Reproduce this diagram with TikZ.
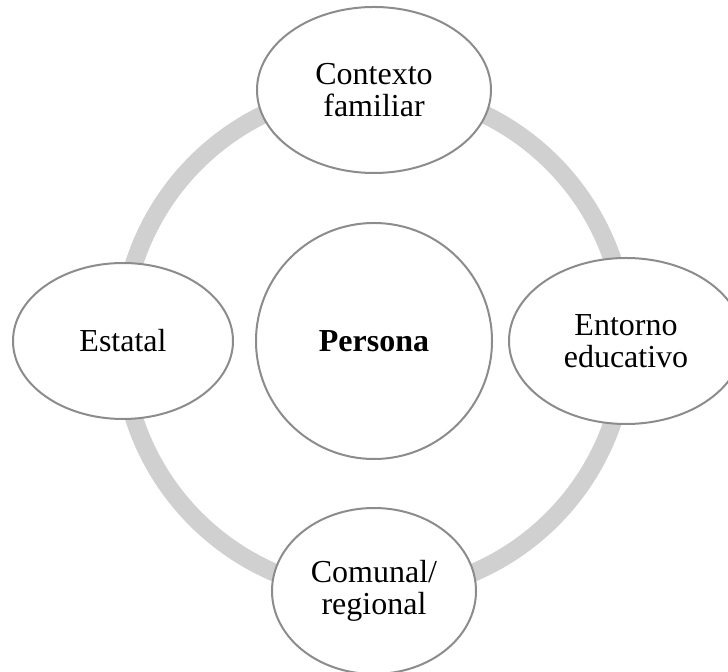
\documentclass[tikz,border=0pt]{standalone}
\usepackage{fontspec}
\setmainfont{Liberation Serif}
\usetikzlibrary{shapes.geometric}
\definecolor{ringgray}{RGB}{208,208,208}
\definecolor{edgegray}{RGB}{140,140,140}

\begin{document}
\begin{tikzpicture}[x=0.5pt, y=-0.5pt,
        bubble/.style={ellipse, draw=edgegray, line width=1pt, fill=white,
            align=center, inner sep=0pt, font=\fontsize{16}{16}\selectfont},
        ring/.style={draw=ringgray, line width=9pt}]
        \useasboundingbox (0,0) rectangle (728,672);

        % Ring behind the bubbles
        \coordinate (mid) at (374,341);
        \draw[ring] (mid) circle[radius=126pt];

        % Centre
        \node[bubble, minimum width=118pt, minimum height=118pt,
            font=\fontsize{16}{16}\selectfont\bfseries] (persona) at (mid) {Persona};

        % Outer bubbles
        \node[bubble, minimum width=117pt, minimum height=83pt] (familia) at (374,90) {Contexto\\familiar};
        \node[bubble, minimum width=117pt, minimum height=83pt] (educa) at (626,341) {Entorno\\educativo};
        \node[bubble, minimum width=102pt, minimum height=83pt] (comuna) at (374,591) {Comunal/\\regional};
        \node[bubble, minimum width=110pt, minimum height=78pt] (estado) at (123,341) {Estatal};
    \end{tikzpicture}
\end{document}
